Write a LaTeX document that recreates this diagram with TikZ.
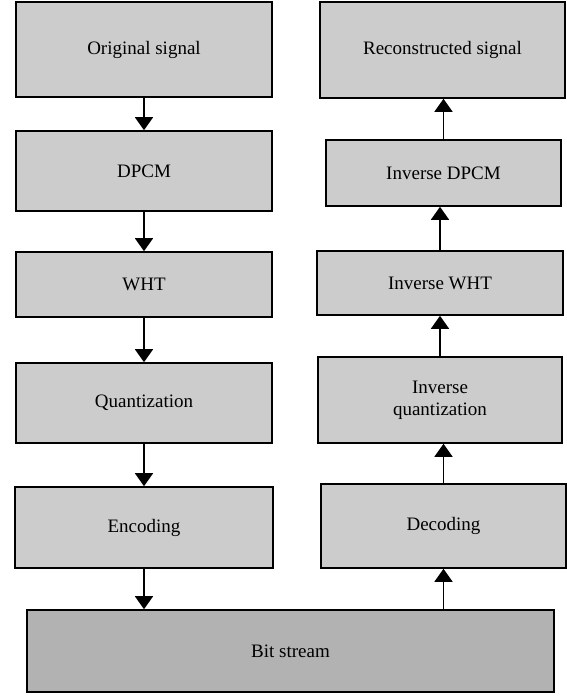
\documentclass[tikz,border=0pt]{standalone}
\usepackage{fontspec}
\setmainfont{Liberation Serif}
\usepackage{tikz}
\usetikzlibrary{arrows.meta}
\definecolor{boxgray}{gray}{0.8}
\definecolor{bitgray}{gray}{0.7}
\tikzset{
  blk/.style={draw=black,line width=1.6pt,fill=boxgray,align=center,inner sep=0pt,
    font=\fontsize{19}{22}\selectfont},
  bitblk/.style={blk,fill=bitgray},
  arr/.style={line width=1.6pt,-{Triangle[length=13pt,width=18pt]}}
}
\begin{document}
\begin{tikzpicture}[x=1pt,y=-1pt]
            \useasboundingbox (0,0) rectangle (567,696);
            \draw (144,49.5) node[blk,minimum width=256pt,minimum height=95pt](orig){Original signal};
            \draw (144,171) node[blk,minimum width=256pt,minimum height=80pt](dpcm){DPCM};
            \draw (144,284.5) node[blk,minimum width=256pt,minimum height=65pt](wht){WHT};
            \draw (144,403) node[blk,minimum width=256pt,minimum height=80pt](quant){Quantization};
            \draw (144,527.5) node[blk,minimum width=258pt,minimum height=81pt](enc){Encoding};
            \draw (290.5,651) node[bitblk,minimum width=527pt,minimum height=82pt](bit){Bit stream};
            \draw (442.5,50) node[blk,minimum width=245pt,minimum height=96pt](rec){Reconstructed signal};
            \draw (443.5,173) node[blk,minimum width=235pt,minimum height=66pt](idpcm){Inverse DPCM};
            \draw (440,283) node[blk,minimum width=246pt,minimum height=64pt](iwht){Inverse WHT};
            \draw (440,400) node[blk,minimum width=244pt,minimum height=86pt](iquant){Inverse\\quantization};
            \draw (443.5,526) node[blk,minimum width=245pt,minimum height=84pt](dec){Decoding};
            \draw[arr] (orig) -- (dpcm);
            \draw[arr] (dpcm) -- (wht);
            \draw[arr] (wht) -- (quant);
            \draw[arr] (quant) -- (enc);
            \draw[arr] (enc.south) -- (enc.south |- bit.north);
            \draw[arr] (bit.north -| dec) -- (dec.south);
            \draw[arr] (dec.north) -- (dec.north |- iquant.south);
            \draw[arr] (iquant) -- (iwht);
            \draw[arr] (iwht.north) -- (iwht.north |- idpcm.south);
            \draw[arr] (idpcm.north) -- (idpcm.north |- rec.south);
        \end{tikzpicture}
\end{document}
